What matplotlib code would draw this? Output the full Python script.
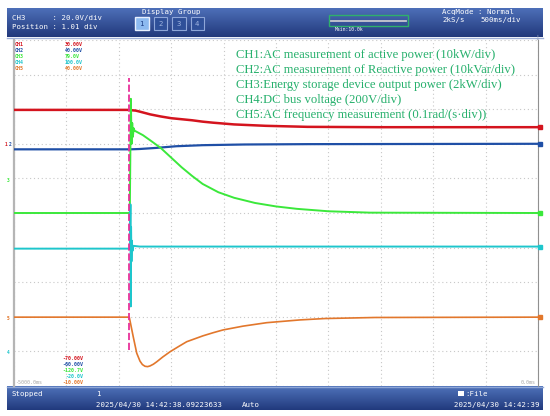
import matplotlib
matplotlib.use("Agg")
import matplotlib.pyplot as plt
import numpy as np
from matplotlib.patches import Rectangle
from matplotlib.colors import LinearSegmentedColormap

# ---------------- data (time in ms, value in divisions) ----------------
t_min, t_max = -5000, 0
time_div_ms = 500
n_ydiv = 10
trigger_ms = -3900

ch1_t = [-5000, -3920, -3880, -3840, -3800, -3750, -3700, -3650, -3600, -3500, -3400, -3300,
         -3200, -3100, -2900, -2600, -2200, -1500, 0]
ch1_v = [7.98, 7.98, 7.97, 7.96, 7.93, 7.89, 7.85, 7.82, 7.79, 7.74, 7.71, 7.68,
         7.64, 7.61, 7.56, 7.52, 7.49, 7.48, 7.48]

ch2_t = [-5000, -3890, -3800, -3650, -3450, -3200, -2800, -2200, 0]
ch2_v = [6.84, 6.84, 6.85, 6.88, 6.93, 6.96, 6.98, 6.99, 7.00]

ch3_t = [-5000, -3895, -3885, -3878, -3872, -3866, -3858, -3850, -3770, -3700, -3600,
         -3500, -3400, -3300, -3200, -3050, -2900, -2700, -2500, -2300, -2000, -1600, 0]
ch3_v = [5.00, 5.00, 8.30, 7.00, 7.60, 7.20, 7.45, 7.38, 7.25, 7.10, 6.88,
         6.60, 6.32, 6.07, 5.84, 5.60, 5.44, 5.29, 5.19, 5.12, 5.05, 5.01, 5.00]

ch4_t = [-5000, -3893, -3889, -3886, -3883, -3879, -3875, -3870, -3860, -3800, 0]
ch4_v = [3.97, 3.97, 5.25, 2.30, 4.60, 3.60, 4.20, 3.90, 4.05, 4.03, 4.03]

ch5_t = [-5000, -3900, -3862, -3829, -3798, -3775, -3750, -3725, -3702, -3670, -3638, -3580,
         -3511, -3430, -3352, -3270, -3197, -3100, -3006, -2815, -2589, -2271, -2033, -1555, 0]
ch5_v = [1.99, 1.99, 1.42, 0.95, 0.72, 0.62, 0.57, 0.56, 0.58, 0.63, 0.70, 0.84,
         0.99, 1.14, 1.28, 1.37, 1.45, 1.54, 1.62, 1.73, 1.83, 1.91, 1.95, 1.98, 1.99]

trig_lo, trig_hi = 1.04, 8.91

ch_names = ["CH1", "CH2", "CH3", "CH4", "CH5"]
ch_top = ["30.00V", "40.00V", "79.0V", "100.0V", "40.00V"]
ch_bot = ["-70.00V", "-60.00V", "-120.7V", "-20.0V", "-10.00V"]
ch_colors = ["#d4141e", "#1f4fa6", "#3be83b", "#1ec6cc", "#e2772c"]
legend_lines = [
    "CH1:AC measurement of active power (10kW/div)",
    "CH2:AC measurement of Reactive power (10kVar/div)",
    "CH3:Energy storage device output power (2kW/div)",
    "CH4:DC bus voltage (200V/div)",
    "CH5:AC frequency measurement (0.1rad/(s\u00b7div))",
]

W, H = 550, 416
fig = plt.figure(figsize=(W / 100, H / 100), dpi=100)
fig.patch.set_facecolor("white")

# background bars axes in pixel coords
bg = fig.add_axes([0, 0, 1, 1])
bg.set_xlim(0, W)
bg.set_ylim(H, 0)
bg.axis("off")

def bar(y0, y1, c_top, c_bot):
    grad = np.linspace(0, 1, 50).reshape(-1, 1)
    cm = LinearSegmentedColormap.from_list("g", [c_top, c_bot])
    bg.imshow(grad, extent=(7, 543, y1, y0), cmap=cm, aspect="auto", zorder=1)

bar(8, 37, "#4d6fb8", "#22397c")
bg.plot([7, 543], [37.5, 37.5], color="#9fb0d8", lw=1, zorder=2)
bar(386, 410, "#4f72ba", "#213a7d")
bg.plot([7, 543], [386.5, 386.5], color="#8ea6d6", lw=1, zorder=2)

# data axes
L, R, T, B = 14, 538, 40, 386
ax = fig.add_axes([L / W, (H - B) / H, (R - L) / W, (B - T) / H])
ax.set_xlim(t_min, t_max)
ax.set_ylim(0, n_ydiv)
ax.set_xticks(np.arange(t_min, t_max + 1, time_div_ms))
ax.set_yticks(np.arange(0, n_ydiv + 1, 1))
ax.tick_params(length=0, labelbottom=False, labelleft=False)
ax.grid(True, color="#c8c8c8", linestyle=(0, (1, 2.5)), lw=0.8)
for s in ["top", "bottom"]:
    ax.spines[s].set_visible(False)
ax.spines["left"].set_color("#b5b5b5")
ax.spines["left"].set_linewidth(1.6)
ax.spines["right"].set_color("#909090")
ax.spines["right"].set_linewidth(0.8)

series = [(ch1_t, ch1_v), (ch2_t, ch2_v), (ch3_t, ch3_v), (ch4_t, ch4_v), (ch5_t, ch5_v)]
lws = [1.8, 1.6, 1.4, 1.4, 1.2]
order = [3, 4, 2, 0, 1]
for i in order:
    tt, vv = series[i]
    ax.plot(tt, vv, color=ch_colors[i], lw=lws[i], zorder=3 + i * 0.1,
            solid_joinstyle="round", solid_capstyle="round")
    ax.plot([t_max + 20], [vv[-1]], marker="s", ms=2.6, color=ch_colors[i], clip_on=False, zorder=5)

ax.plot([trigger_ms, trigger_ms], [trig_lo, trig_hi], color="#e8309a", lw=1.3,
        linestyle=(0, (4, 1.5)), zorder=6)

# overlay axes for text (above the data axes)
ov = fig.add_axes([0, 0, 1, 1], facecolor="none")
ov.set_xlim(0, W)
ov.set_ylim(H, 0)
ov.axis("off")

for k, line in enumerate(legend_lines):
    ov.text(236, 55 + k * 15.1, line, color="#26b06c", fontsize=9.1,
            family="Liberation Serif", va="center", ha="left")

mono = "DejaVu Sans Mono"
for k in range(5):
    ov.text(15, 45 + k * 6, ch_names[k], color=ch_colors[k], fontsize=3.6,
            family=mono, weight="bold", va="center")
    ov.text(65, 45 + k * 6, ch_top[k], color=ch_colors[k], fontsize=3.6,
            family=mono, weight="bold", va="center")
    ov.text(83, 358 + k * 6, ch_bot[k], color=ch_colors[k], fontsize=3.6,
            family=mono, weight="bold", va="center", ha="right")

ov.text(15, 382, "-5000.0ms", color="#a8a8a8", fontsize=3.6, family=mono, va="center")
ov.text(536, 382, "0.0ms", color="#a8a8a8", fontsize=3.6, family=mono, va="center", ha="right")

# left channel position markers
for xv, yv, c, s in [(6, 145, ch_colors[0], "1"), (10, 145, ch_colors[1], "2"),
                     (8, 180, ch_colors[2], "3"), (8, 318, ch_colors[4], "5"),
                     (8, 353, ch_colors[3], "4")]:
    ov.text(xv, yv, s, color=c, fontsize=3.3, family=mono, weight="bold",
            va="center", ha="center")

# header text
ov.text(12, 18, "CH3      : 20.0V/div", color="white", fontsize=5.3, family=mono, va="center")
ov.text(12, 27, "Position : 1.01 div", color="white", fontsize=5.3, family=mono, va="center")
ov.text(171, 12, "Display Group", color="white", fontsize=5.3, family=mono, va="center", ha="center")
btn_x = [135, 153.5, 172, 190.5]
for k, bx in enumerate(btn_x):
    if k == 0:
        ov.add_patch(Rectangle((bx, 17), 13.5, 13, facecolor="#8dbaf0", edgecolor="#e8f0ff", lw=1.0))
        tc = "#1d3f86"
    else:
        ov.add_patch(Rectangle((bx, 17), 13.5, 13, facecolor="#2f5099", edgecolor="#8ea6d8", lw=0.8))
        tc = "#9fb4e0"
    ov.text(bx + 6.75, 23.7, str(k + 1), color=tc, fontsize=5.3, family=mono, va="center", ha="center")

ov.add_patch(Rectangle((329, 15), 79, 11, facecolor="none", edgecolor="#2fb06c", lw=1.0))
ov.plot([331, 406], [20.5, 20.5], color="#c8c8d0", lw=1.3)
ov.text(335, 29.5, "Main:10.0k", color="white", fontsize=3.4, family=mono, va="center")
ov.text(442, 12, "AcqMode : Normal", color="white", fontsize=5.3, family=mono, va="center")
ov.text(442, 20, "2kS/s", color="white", fontsize=5.3, family=mono, va="center")
ov.text(521, 20, "500ms/div", color="white", fontsize=5.3, family=mono, va="center", ha="right")
ov.text(538, 38, "\u2193", color="#9aa6c0", fontsize=5, va="center", ha="center")

# bottom bar text
ov.text(12, 394, "Stopped", color="white", fontsize=5.3, family=mono, va="center")
ov.text(96, 394, "1", color="white", fontsize=5.3, family=mono, va="center")
ov.text(96, 405, "2025/04/30 14:42:38.09223633", color="white", fontsize=5.3, family=mono, va="center")
ov.text(242, 405, "Auto", color="white", fontsize=5.3, family=mono, va="center")
ov.add_patch(Rectangle((458, 391), 6, 4.5, facecolor="white", edgecolor="none"))
ov.text(465, 394, ":File", color="white", fontsize=5.3, family=mono, va="center")
ov.text(540, 405, "2025/04/30 14:42:39", color="white", fontsize=5.3, family=mono, va="center", ha="right")

fig.savefig("out.png", dpi=100, facecolor="white")
